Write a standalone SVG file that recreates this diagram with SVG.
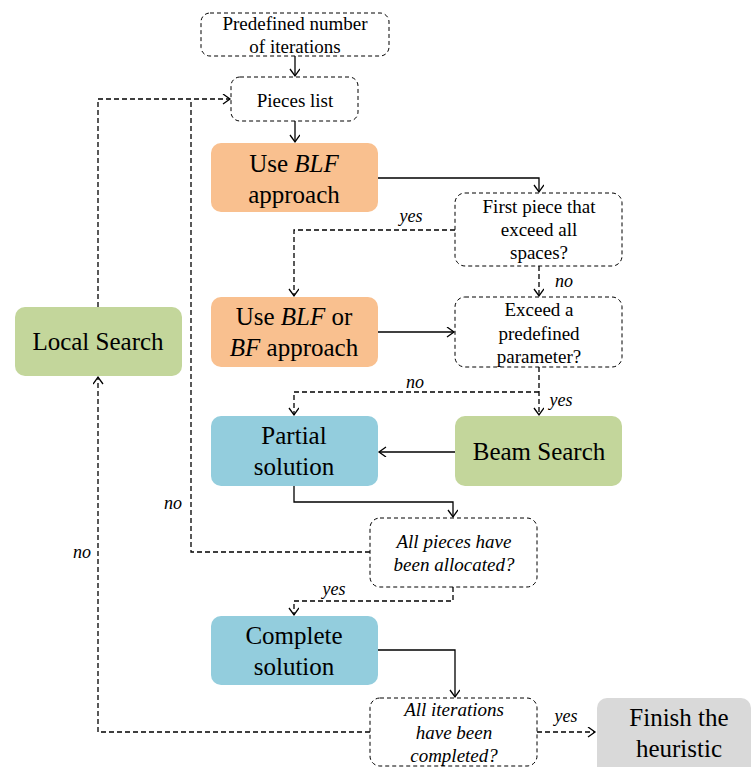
<svg xmlns="http://www.w3.org/2000/svg" width="753" height="767" viewBox="0 0 753 767" font-family="Liberation Serif, Times New Roman, serif">
  <defs>
    <!-- open chevron arrowhead shared by all connectors -->
    <marker id="arr" markerUnits="userSpaceOnUse" markerWidth="12" markerHeight="12" refX="8" refY="5" orient="auto">
      <path d="M1,0 L8,5 L1,10" fill="none" stroke="#000" stroke-width="1.3"/>
    </marker>
  </defs>

  <!-- connectors: solid flow and dashed decision branches -->
  <g id="connectors" fill="none" stroke="#000" stroke-width="1.3">
    <g id="solid-links" marker-end="url(#arr)">
      <path d="M295,56 V76"/>
      <path d="M295,121 V142"/>
      <path d="M378,178 H539 V192"/>
      <path d="M378,332 H454"/>
      <path d="M455,452 H379"/>
      <path d="M294,486 V502 H453 V517"/>
      <path d="M378,650 H455 V697"/>
    </g>
    <g id="dashed-links" stroke-dasharray="5 3">
      <path d="M455,230 H294 V296" marker-end="url(#arr)"/>
      <path d="M539,266 V296" marker-end="url(#arr)"/>
      <path d="M539,367 V415" marker-end="url(#arr)"/>
      <path d="M539,392 H294 V415" marker-end="url(#arr)"/>
      <path d="M370,552 H191 V99"/>
      <path d="M98,307 V99 H230" marker-end="url(#arr)"/>
      <path d="M453,587 V601 H294 V615" marker-end="url(#arr)"/>
      <path d="M537,732 H595" marker-end="url(#arr)"/>
      <path d="M370,732 H98 V377" marker-end="url(#arr)"/>
    </g>
    <g id="branch-labels" fill="#000" stroke="none" font-size="18" font-style="italic" text-anchor="middle">
      <text x="411" y="222">yes</text>
      <text x="564" y="287">no</text>
      <text x="415" y="388">no</text>
      <text x="561" y="406">yes</text>
      <text x="173" y="509">no</text>
      <text x="334" y="595">yes</text>
      <text x="82" y="558">no</text>
      <text x="566" y="722">yes</text>
    </g>
  </g>

  <!-- dashed question / input boxes -->
  <g id="dashed-nodes" text-anchor="middle" font-size="19">
    <g id="iterations">
      <rect x="201" y="13" width="188" height="43" rx="9" fill="#fff" stroke="#000" stroke-dasharray="4 3"/>
      <text x="295" y="30">Predefined number</text>
      <text x="295" y="53">of iterations</text>
    </g>
    <g id="pieces">
      <rect x="231" y="77" width="127" height="44" rx="9" fill="#fff" stroke="#000" stroke-dasharray="4 3"/>
      <text x="295" y="107">Pieces list</text>
    </g>
    <g id="first-piece">
      <rect x="455" y="193" width="167" height="73" rx="10" fill="#fff" stroke="#000" stroke-dasharray="4 3"/>
      <text x="539" y="213">First piece that</text>
      <text x="539" y="236">exceed all</text>
      <text x="539" y="259">spaces?</text>
    </g>
    <g id="exceed">
      <rect x="455" y="297" width="167" height="70" rx="10" fill="#fff" stroke="#000" stroke-dasharray="4 3"/>
      <text x="539" y="316">Exceed a</text>
      <text x="539" y="340">predefined</text>
      <text x="539" y="363">parameter?</text>
    </g>
    <g id="all-pieces" font-style="italic">
      <rect x="370" y="518" width="167" height="69" rx="10" fill="#fff" stroke="#000" stroke-dasharray="4 3"/>
      <text x="454" y="548">All pieces have</text>
      <text x="454" y="571">been allocated?</text>
    </g>
    <g id="all-iterations" font-style="italic">
      <rect x="370" y="698" width="167" height="68" rx="10" fill="#fff" stroke="#000" stroke-dasharray="4 3"/>
      <text x="454" y="716">All iterations</text>
      <text x="454" y="739">have been</text>
      <text x="454" y="762">completed?</text>
    </g>
  </g>

  <!-- filled process boxes -->
  <g id="process-nodes" text-anchor="middle" font-size="25">
    <g id="blf">
      <rect x="211" y="143" width="167" height="69" rx="10" fill="#F9C08F"/>
      <text x="294" y="172">Use <tspan font-style="italic">BLF</tspan></text>
      <text x="294" y="203">approach</text>
    </g>
    <g id="blf-bf">
      <rect x="211" y="297" width="167" height="70" rx="10" fill="#F9C08F"/>
      <text x="294" y="325">Use <tspan font-style="italic">BLF</tspan> or</text>
      <text x="294" y="356"><tspan font-style="italic">BF</tspan> approach</text>
    </g>
    <g id="partial">
      <rect x="211" y="416" width="167" height="70" rx="10" fill="#93CDDD"/>
      <text x="294" y="444">Partial</text>
      <text x="294" y="475">solution</text>
    </g>
    <g id="beam">
      <rect x="455" y="416" width="167" height="70" rx="10" fill="#C3D69B"/>
      <text x="539" y="460">Beam Search</text>
    </g>
    <g id="local">
      <rect x="15" y="307" width="167" height="69" rx="10" fill="#C3D69B"/>
      <text x="98" y="350">Local Search</text>
    </g>
    <g id="complete">
      <rect x="211" y="616" width="167" height="69" rx="10" fill="#93CDDD"/>
      <text x="294" y="644">Complete</text>
      <text x="294" y="675">solution</text>
    </g>
    <g id="finish">
      <rect x="597" y="698" width="154" height="80" rx="10" fill="#D9D9D9"/>
      <text x="679" y="726">Finish the</text>
      <text x="679" y="757">heuristic</text>
    </g>
  </g>
</svg>
